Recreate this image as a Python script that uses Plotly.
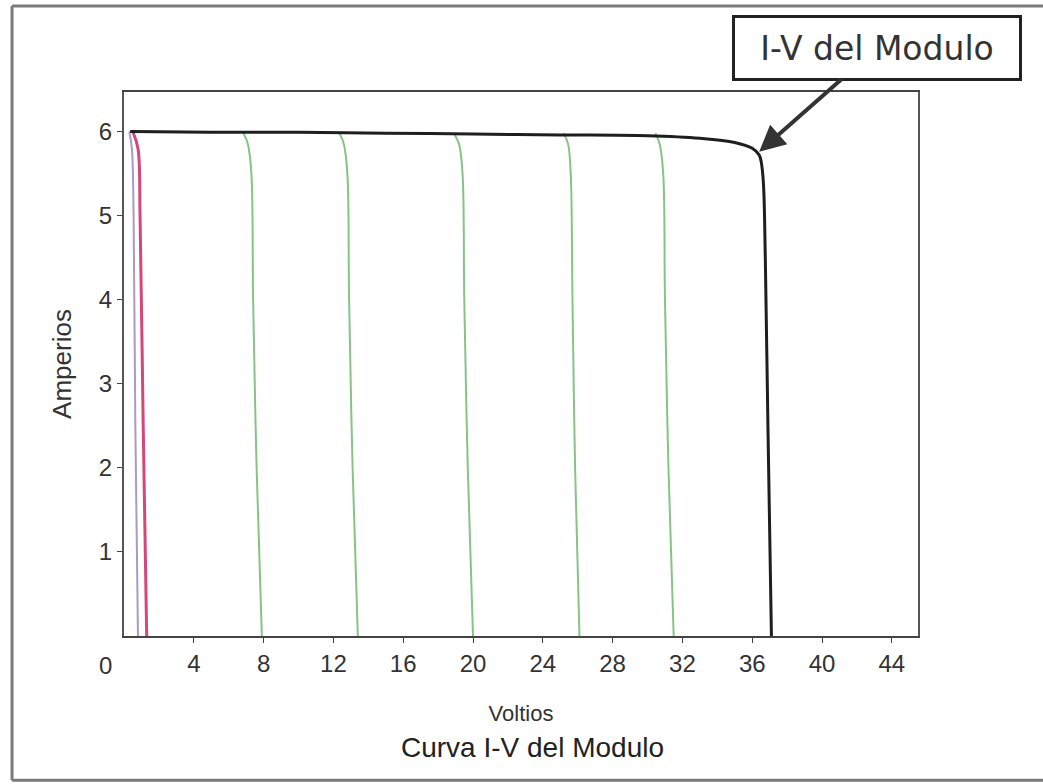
import plotly.graph_objects as go

# Module I-V curve (black)
mod_v = [0.35, 5, 10, 15, 20, 25, 30, 33, 35, 36.0, 36.4, 36.6, 36.75, 36.9, 37.1]
mod_i = [6.0, 5.99, 5.99, 5.98, 5.97, 5.96, 5.95, 5.92, 5.87, 5.8, 5.72, 5.5, 4.5, 2.5, 0]

# Series-string curves (green)
g1_v = [6.85, 7.1, 7.3, 7.4, 7.6, 7.9]
g2_v = [12.35, 12.6, 12.8, 12.9, 13.1, 13.4]
g3_v = [18.9, 19.2, 19.4, 19.5, 19.7, 20.0]
g4_v = [25.2, 25.45, 25.6, 25.7, 25.85, 26.1]
g5_v = [30.45, 30.7, 30.9, 31.0, 31.2, 31.5]
g_i = [5.98, 5.85, 5.5, 4.0, 2.0, 0]

# Single cell curves
cell_a_v = [0.3, 0.45, 0.55, 0.65, 0.8]
cell_a_i = [6.0, 5.8, 5.0, 2.5, 0]
cell_b_v = [0.5, 0.8, 0.92, 1.1, 1.3]
cell_b_i = [6.0, 5.8, 5.0, 2.5, 0]

x_ticks = [4, 8, 12, 16, 20, 24, 28, 32, 36, 40, 44]
y_ticks = [1, 2, 3, 4, 5, 6]

FONT = "Liberation Sans Narrow, Liberation Sans, Arial, sans-serif"

fig = go.Figure()
green = "#86c486"
for gv in [g1_v, g2_v, g3_v, g4_v, g5_v]:
    fig.add_trace(go.Scatter(x=gv, y=g_i, mode="lines", line=dict(color=green, width=2, shape="spline"),
                             showlegend=False, hoverinfo="skip"))
fig.add_trace(go.Scatter(x=cell_a_v, y=cell_a_i, mode="lines", line=dict(color="#a99ac8", width=2, shape="spline"),
                         showlegend=False))
fig.add_trace(go.Scatter(x=cell_b_v, y=cell_b_i, mode="lines", line=dict(color="#d5467a", width=3, shape="spline"),
                         showlegend=False))
fig.add_trace(go.Scatter(x=mod_v, y=mod_i, mode="lines", line=dict(color="#1e1e1e", width=3, shape="spline"),
                         showlegend=False))

fig.update_layout(
    width=1043, height=784,
    margin=dict(l=124, r=125, t=92, b=148),
    plot_bgcolor="white", paper_bgcolor="white",
    font=dict(family=FONT, color="#333333"),
    xaxis=dict(range=[0, 45.5], tickvals=x_ticks, ticktext=[str(t) for t in x_ticks],
               showgrid=False, zeroline=False, showline=True, linecolor="#444444", linewidth=2,
               mirror=True, ticks="outside", ticklen=5, tickcolor="#444444",
               tickfont=dict(size=24, color="#333333"),
               title=dict(text="Voltios", font=dict(size=22, color="#333333"), standoff=30)),
    yaxis=dict(range=[0, 6.47], tickvals=y_ticks, ticktext=[str(t) for t in y_ticks],
               showgrid=False, zeroline=False, showline=True, linecolor="#555555", linewidth=2,
               mirror=True, ticks="outside", ticklen=5, tickcolor="#444444",
               tickfont=dict(size=24, color="#333333"),
               title=dict(text="Amperios", font=dict(size=26, color="#333333"), standoff=20)),
)

# corner "0" label
fig.add_annotation(x=0, y=0, xref="x", yref="y", text="0", showarrow=False,
                   xshift=-19, yshift=-29, font=dict(size=24, color="#333333", family=FONT))

# chart caption
fig.add_annotation(x=0.515, y=-0.205, xref="paper", yref="paper", text="Curva I-V del Modulo",
                   showarrow=False, yanchor="middle",
                   font=dict(size=28, color="#222222", family=FONT))

# callout
fig.add_annotation(x=36.4, y=5.76, xref="x", yref="y", text="I-V del Modulo",
                   showarrow=True, ax=118, ay=-104, arrowhead=2, arrowsize=1.3, arrowwidth=4,
                   arrowcolor="#333333", bordercolor="#222222", borderwidth=3, borderpad=4,
                   bgcolor="white", width=276, height=52,
                   font=dict(size=33, color="#333333", family="DejaVu Sans, Verdana, sans-serif"))

# outer frame
for (x0, y0, x1, y1) in [(-0.141, 1.158, 1.16, 1.158), (-0.141, 1.158, -0.141, -0.265),
                         (-0.141, -0.265, 1.16, -0.265)]:
    fig.add_shape(type="line", xref="paper", yref="paper", x0=x0, y0=y0, x1=x1, y1=y1,
                  line=dict(color="#7a7a7a", width=3))

fig.write_html("out.html")
